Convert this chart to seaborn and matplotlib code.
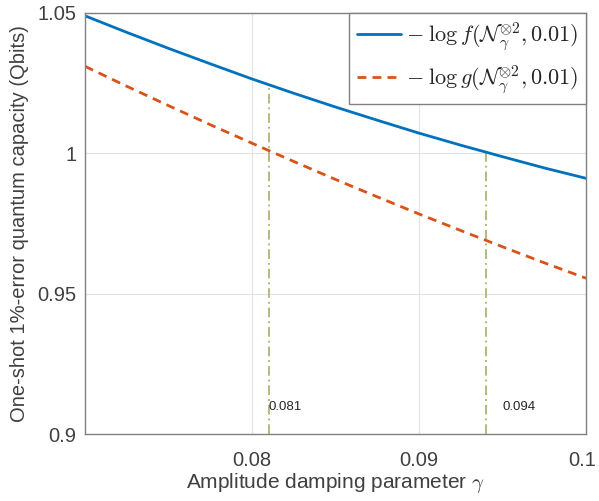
import numpy as np
import pandas as pd
import matplotlib
matplotlib.use("Agg")
import matplotlib.pyplot as plt
import matplotlib.transforms as mtransforms
import seaborn as sns
from matplotlib.lines import Line2D

gamma = [0.0700, 0.0725, 0.0750, 0.0775, 0.0800, 0.0825, 0.0850,
         0.0875, 0.0900, 0.0925, 0.0950, 0.0975, 0.1000]
f_vals = [1.0490, 1.0431, 1.0374, 1.0319, 1.0265, 1.0214, 1.0165,
          1.0118, 1.0072, 1.0029, 0.9988, 0.9948, 0.9911]
g_vals = [1.0310, 1.0239, 1.0170, 1.0102, 1.0036, 0.9971, 0.9907,
          0.9845, 0.9784, 0.9725, 0.9667, 0.9610, 0.9555]
mark_x = [0.081, 0.094]
mark_top = [1.0245, 1.0005]
mark_text_x = [0.0810, 0.0950]
mark_labels = ["0.081", "0.094"]
label_f = r"$-\;\log f(\mathcal{N}_\gamma^{\otimes 2}, 0.01)$"
label_g = r"$-\;\log g(\mathcal{N}_\gamma^{\otimes 2}, 0.01)$"

sns.set_theme(style="whitegrid")
plt.rcParams['font.family'] = ['Liberation Sans', 'DejaVu Sans']
plt.rcParams['mathtext.fontset'] = 'cm'

df = pd.DataFrame({
    "gamma": gamma * 2,
    "value": f_vals + g_vals,
    "series": [label_f] * len(gamma) + [label_g] * len(gamma),
})

fig = plt.figure(figsize=(5.99, 5.01), dpi=100)
ax = fig.add_axes([85/599, 1 - 434/501, (586 - 85)/599, (434 - 13)/501])

sns.lineplot(data=df, x="gamma", y="value", hue="series", style="series",
             palette=["#0072BD", "#D95319"], dashes=[(None, None), (3.2, 2.2)],
             linewidth=2, ax=ax, legend=False)

for xv, top in zip(mark_x, mark_top):
    ax.plot([xv, xv], [0.9, top], color="#B8B880", linewidth=1.4,
            linestyle=(0, (5, 2, 1, 2)), zorder=1)

for tx, lab in zip(mark_text_x, mark_labels):
    ax.text(tx, 0.9097, lab, fontsize=9.5, color="#262626",
            ha="left", va="center")

ax.set_xlim(0.07, 0.1)
ax.set_ylim(0.9, 1.05)
ax.set_xticks([0.08, 0.09, 0.1])
ax.set_xticklabels(["0.08", "0.09", "0.1"])
ax.set_yticks([0.9, 0.95, 1.0, 1.05])
ax.set_yticklabels(["0.9", "0.95", "1", "1.05"])
ax.tick_params(axis="both", labelsize=14.5, colors="#404040", direction="in",
               length=4, width=0.8)
ax.tick_params(axis="x", pad=12)
ax.tick_params(axis="y", pad=6)
ax.grid(True, color="#E3E3E3", linewidth=0.8)
for s in ax.spines.values():
    s.set_visible(True)
    s.set_color("#808080")
    s.set_linewidth(1.0)

# keep the last x tick label inside the canvas
last = ax.get_xticklabels()[-1]
last.set_transform(last.get_transform() +
                   mtransforms.ScaledTranslation(-4/100, 0, fig.dpi_scale_trans))

ax.set_xlabel(r"Amplitude damping parameter $\gamma$", fontsize=15,
              color="#404040", labelpad=1)
ax.set_ylabel("One-shot 1%-error quantum capacity (Qbits)", fontsize=14.5,
              color="#404040", labelpad=6)

handles = [Line2D([0], [0], color="#0072BD", lw=2),
           Line2D([0], [0], color="#D95319", lw=2, linestyle=(0, (3.2, 2.2)))]
leg = ax.legend(handles, [label_f, label_g], loc="upper right", fontsize=16,
                frameon=True, fancybox=False, borderaxespad=0,
                handlelength=2.0, handletextpad=0.2, labelspacing=0.45,
                borderpad=0.35)
leg.get_frame().set_edgecolor("#808080")
leg.get_frame().set_linewidth(1.0)
leg.get_frame().set_alpha(1)

fig.savefig("out.png", dpi=100)
